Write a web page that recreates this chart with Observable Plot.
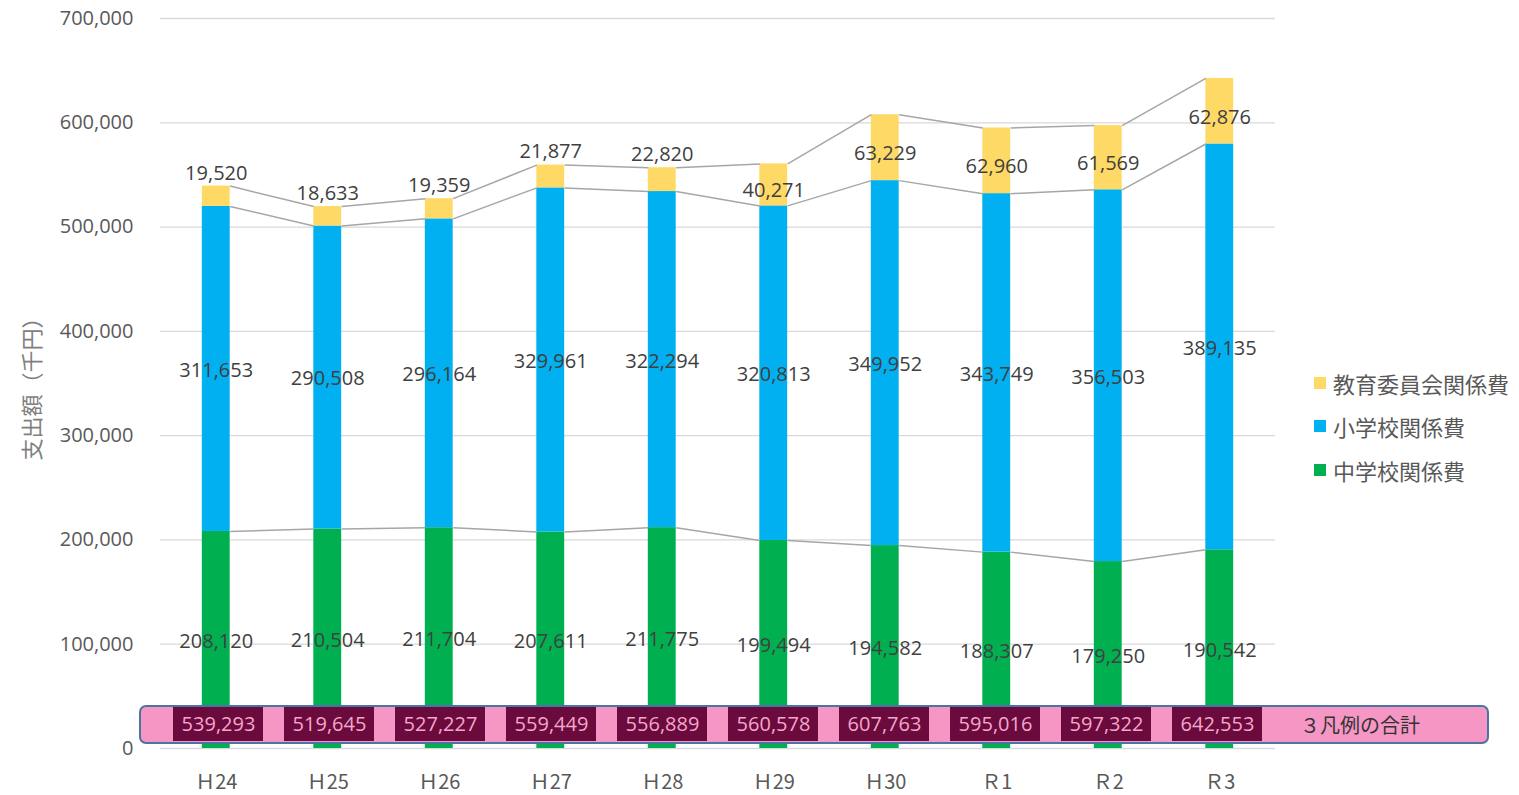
<!DOCTYPE html>
<html><head><meta charset="utf-8">
<script src="https://cdn.jsdelivr.net/npm/d3@7"></script>
<script src="https://cdn.jsdelivr.net/npm/@observablehq/plot@0.6"></script>
<style>
body{margin:0;background:#fff;font-family:'Open Sans','Noto Sans CJK JP',sans-serif;}
#wrap{position:relative;width:1519px;height:795px;overflow:hidden;}
#main{position:absolute;left:0;top:0;}
#strip{position:absolute;left:139px;top:705px;width:1346px;height:35px;background:#F596C5;border:2px solid #4A75A3;border-radius:7px;}
#stripPlot{position:absolute;left:0;top:707px;}
#stripLabel{position:absolute;left:1290px;top:707px;width:140px;height:35px;line-height:35px;text-align:center;font-size:20px;color:#333;font-family:'Noto Sans CJK JP',sans-serif;}
#legend{position:absolute;left:1314px;top:361px;}
.li{display:flex;align-items:center;height:43.5px;font-size:22px;color:#595959;font-family:'Noto Sans CJK JP',sans-serif;}
.sw{width:12px;height:12px;margin-right:7px;}
</style></head>
<body><div id="wrap"><div id="main"></div><div id="strip"></div><div id="stripPlot"></div><div id="stripLabel">３凡例の合計</div><div id="legend"></div></div>
<script>
const years = ["Ｈ24","Ｈ25","Ｈ26","Ｈ27","Ｈ28","Ｈ29","Ｈ30","Ｒ1","Ｒ2","Ｒ3"];
const juniorHigh = [208120,210504,211704,207611,211775,199494,194582,188307,179250,190542];
const elementary = [311653,290508,296164,329961,322294,320813,349952,343749,356503,389135];
const board = [19520,18633,19359,21877,22820,40271,63229,62960,61569,62876];
const totals = [539293,519645,527227,559449,556889,560578,607763,595016,597322,642553];
const seriesNames = ["中学校関係費","小学校関係費","教育委員会関係費"];
const seriesColors = ["#00B050","#00B0F0","#FFD966"];
const yTicks = [0,100000,200000,300000,400000,500000,600000,700000];
const yLabel = "支出額（千円）";

const fmt = d3.format(",");
const half = 0.125;
const values = [juniorHigh, elementary, board];

const segs = [];
years.forEach((yr, i) => {
  let base = 0;
  values.forEach((arr, s) => {
    const v = arr[i];
    segs.push({i, s, x1: i - half, x2: i + half, y1: base, y2: base + v, v, mid: base + v / 2});
    base += v;
  });
});
const links = [];
for (let s = 0; s < 3; s++) {
  for (let i = 0; i < years.length - 1; i++) {
    const a = segs.find(d => d.i === i && d.s === s);
    const b = segs.find(d => d.i === i + 1 && d.s === s);
    links.push({x1: a.x2, y1: a.y2, x2: b.x1, y2: b.y2});
  }
}

const font = "'Open Sans','Noto Sans CJK JP',sans-serif";
const chart = Plot.plot({
  width: 1519, height: 795,
  marginLeft: 160, marginRight: 244, marginTop: 18, marginBottom: 47,
  style: {fontFamily: font, fontSize: "20px", color: "#595959", background: "transparent"},
  x: {domain: [-0.5, 9.5]},
  y: {domain: [0, 700000]},
  marks: [
    Plot.gridY(yTicks, {stroke: "#D9D9D9", strokeOpacity: 1, strokeWidth: 1.3}),
    ...[0,1,2].map(s => Plot.rectY(segs.filter(d => d.s === s), {x1: "x1", x2: "x2", y1: "y1", y2: "y2", fill: seriesColors[s]})),
    Plot.link(links, {x1: "x1", y1: "y1", x2: "x2", y2: "y2", stroke: "#A6A6A6", strokeWidth: 1.5}),
    Plot.text(segs.filter(d => d.s < 2), {x: "i", y: "mid", text: d => fmt(d.v), fill: "#404040", fontSize: 20, dy: 1.5}),
    Plot.text(segs.filter(d => d.s === 2 && d.v < 30000), {x: "i", y: "y2", text: d => fmt(d.v), fill: "#404040", fontSize: 20, dy: -13}),
    Plot.text(segs.filter(d => d.s === 2 && d.v >= 30000), {x: "i", y: "mid", text: d => fmt(d.v), fill: "#404040", fontSize: 20, dy: 6}),
    Plot.axisX({ticks: d3.range(years.length), tickFormat: i => years[i], tickSize: 0, tickPadding: 26, fontSize: 20, fontFamily: "'Noto Sans CJK JP',sans-serif", label: null}),
    Plot.axisY({ticks: yTicks, tickFormat: d3.format(","), tickSize: 0, tickPadding: 27, fontSize: 20, label: null}),
    Plot.text([yLabel], {frameAnchor: "left", textAnchor: "middle", dx: -128, dy: 0, rotate: -90, text: d => d, fontSize: 22, fill: "#7F7F7F", fontFamily: "'Noto Sans CJK JP',sans-serif"})
  ]
});
document.getElementById("main").append(chart);

const strip = Plot.plot({
  width: 1519, height: 34,
  marginLeft: 160, marginRight: 244, marginTop: 0, marginBottom: 0,
  style: {fontFamily: font, fontSize: "20px", background: "transparent"},
  x: {domain: years, paddingInner: 0.19, paddingOuter: 0.095, axis: null},
  marks: [
    Plot.cell(years, {x: d => d, fill: "#6B0A3C"}),
    Plot.text(years, {x: d => d, text: (d, i) => fmt(totals[i]), fill: "#F4A6CC", fontSize: 20})
  ]
});
document.getElementById("stripPlot").append(strip);

const legend = document.getElementById("legend");
[2,1,0].forEach(s => {
  const row = document.createElement("div");
  row.className = "li";
  row.innerHTML = `<span class="sw" style="background:${seriesColors[s]}"></span><span>${seriesNames[s]}</span>`;
  legend.append(row);
});
</script>
</body></html>
